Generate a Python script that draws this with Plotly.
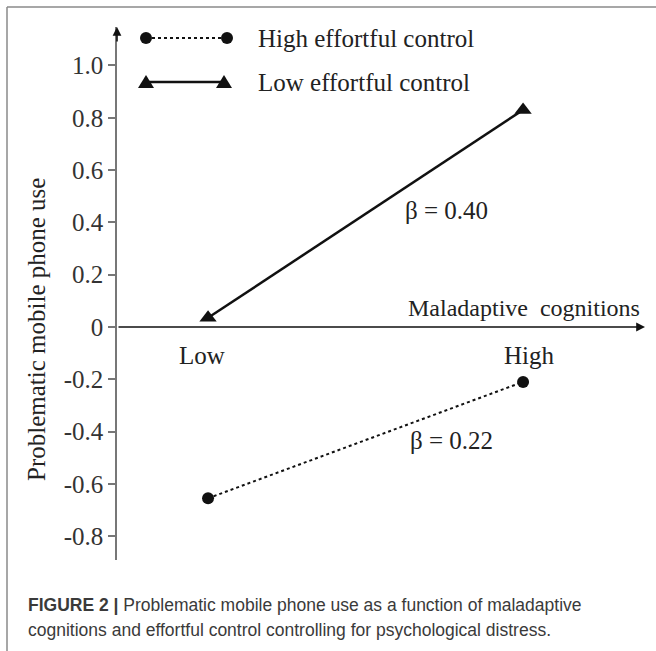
import plotly.graph_objects as go

# ---- data ----
categories = ["Low", "High"]
high_ec_name = "High effortful control"
high_ec_values = [-0.655, -0.21]
low_ec_name = "Low effortful control"
low_ec_values = [0.035, 0.83]
y_tick_values = [1.0, 0.8, 0.6, 0.4, 0.2, 0.0, -0.2, -0.4, -0.6, -0.8]
y_tick_labels = ["1.0", "0.8", "0.6", "0.4", "0.2", "0", "-0.2", "-0.4", "-0.6", "-0.8"]
slope_labels = ["β = 0.40", "β = 0.22"]
x_axis_title = "Maladaptive\u00a0\u00a0cognitions"
y_axis_title = "Problematic mobile phone use"
caption_line1 = "<b>FIGURE 2 |</b> Problematic mobile phone use as a function of maladaptive"
caption_line2 = "cognitions and effortful control controlling for psychological distress."

W, H = 656, 651
def px(x):
    return x / W
def py(y):
    return 1 - y / H

SERIF = "Liberation Serif"
TXT = "#222222"
FS = 25

fig = go.Figure()
fig.add_trace(go.Scatter(
    x=categories, y=high_ec_values, name=high_ec_name, mode="lines+markers",
    line=dict(color="#111111", width=2, dash="dot"),
    marker=dict(symbol="circle", size=12, color="#111111"),
    showlegend=False, cliponaxis=False))
fig.add_trace(go.Scatter(
    x=categories, y=low_ec_values, name=low_ec_name, mode="lines+markers",
    line=dict(color="#111111", width=2.5),
    marker=dict(symbol="triangle-up", size=15, color="#111111"),
    showlegend=False, cliponaxis=False))

shapes = []
# frame (left and top)
shapes.append(dict(type="line", xref="paper", yref="paper", x0=px(7), x1=px(7), y0=py(7), y1=0,
                   line=dict(color="#8a8a8a", width=1.5)))
shapes.append(dict(type="line", xref="paper", yref="paper", x0=px(7), x1=1, y0=py(7), y1=py(7),
                   line=dict(color="#8a8a8a", width=1.5)))
# custom legend samples
shapes.append(dict(type="line", xref="paper", yref="paper", x0=px(146), x1=px(227), y0=py(38), y1=py(38),
                   line=dict(color="#111111", width=2, dash="dot")))
for cx in (146, 227):
    shapes.append(dict(type="circle", xref="paper", yref="paper", xsizemode="pixel", ysizemode="pixel",
                       xanchor=px(cx), yanchor=py(38), x0=-6, x1=6, y0=-6, y1=6,
                       fillcolor="#111111", line=dict(width=0)))
shapes.append(dict(type="line", xref="paper", yref="paper", x0=px(146), x1=px(224), y0=py(82), y1=py(82),
                   line=dict(color="#111111", width=2.5)))
for cx in (146, 224):
    shapes.append(dict(type="path", xref="paper", yref="paper", xsizemode="pixel", ysizemode="pixel",
                       xanchor=px(cx), yanchor=py(82), path="M -8,-6 L 8,-6 L 0,7 Z",
                       fillcolor="#111111", line=dict(width=0)))

annotations = []
# axis arrows
annotations.append(dict(xref="x domain", yref="y", axref="x domain", ayref="y",
                        x=1, y=0, ax=0, ay=0, text="", showarrow=True,
                        arrowhead=2, arrowsize=1.1, arrowwidth=1.6, arrowcolor="#111111"))
annotations.append(dict(xref="x domain", yref="y domain", axref="x domain", ayref="y domain",
                        x=0, y=1, ax=0, ay=0.97, text="", showarrow=True,
                        arrowhead=2, arrowsize=1.1, arrowwidth=1.6, arrowcolor="#111111"))
# category labels under the x-axis
for cat, xs in zip(categories, (-6, 6)):
    annotations.append(dict(x=cat, y=0, xref="x", yref="y", text=cat, showarrow=False,
                            yshift=-29, xshift=xs, font=dict(family=SERIF, size=FS, color=TXT)))
# x axis title
annotations.append(dict(xref="paper", yref="paper", x=px(642), y=py(308), xanchor="right", yanchor="middle",
                        text=x_axis_title, showarrow=False, font=dict(family=SERIF, size=24, color=TXT)))
# y axis title
annotations.append(dict(xref="paper", yref="paper", x=px(36), y=py(330), xanchor="center", yanchor="middle",
                        text=y_axis_title, textangle=-90, showarrow=False,
                        font=dict(family=SERIF, size=FS, color=TXT)))
# slope labels
annotations.append(dict(xref="paper", yref="paper", x=px(446), y=py(211), xanchor="center", yanchor="middle",
                        text=slope_labels[0], showarrow=False, font=dict(family=SERIF, size=FS, color=TXT)))
annotations.append(dict(xref="paper", yref="paper", x=px(452), y=py(440), xanchor="center", yanchor="middle",
                        text=slope_labels[1], showarrow=False, font=dict(family=SERIF, size=FS, color=TXT)))
# legend labels
annotations.append(dict(xref="paper", yref="paper", x=px(256), y=py(38), xanchor="left", yanchor="middle",
                        text=high_ec_name, showarrow=False, font=dict(family=SERIF, size=FS, color=TXT)))
annotations.append(dict(xref="paper", yref="paper", x=px(256), y=py(82), xanchor="left", yanchor="middle",
                        text=low_ec_name, showarrow=False, font=dict(family=SERIF, size=FS, color=TXT)))
# caption
annotations.append(dict(xref="paper", yref="paper", x=px(26), y=py(605), xanchor="left", yanchor="middle",
                        text=caption_line1, showarrow=False,
                        font=dict(family="Liberation Sans", size=17.5, color="#3a3a3a")))
annotations.append(dict(xref="paper", yref="paper", x=px(26), y=py(630), xanchor="left", yanchor="middle",
                        text=caption_line2, showarrow=False,
                        font=dict(family="Liberation Sans", size=17.5, color="#3a3a3a")))

fig.update_layout(
    width=W, height=H,
    margin=dict(l=0, r=0, t=0, b=0),
    paper_bgcolor="white", plot_bgcolor="white",
    showlegend=False,
    xaxis=dict(domain=[px(117), px(645)], type="category", range=[-0.289, 1.387],
               showgrid=False, zeroline=False, showline=False, showticklabels=False, ticks=""),
    yaxis=dict(domain=[py(560), py(27)], range=[-0.891, 1.147],
               tickvals=y_tick_values, ticktext=y_tick_labels,
               showgrid=False, zeroline=False, showline=True, linecolor="#777777", linewidth=1.5,
               ticks="outside", ticklen=7, tickcolor="#777777", tickwidth=1.5,
               tickfont=dict(family=SERIF, size=FS, color="#333333")),
    shapes=shapes, annotations=annotations,
)

fig.write_html("out.html", config={"displayModeBar": False},
               post_script="document.body.style.margin='0';document.body.style.overflow='hidden';")
